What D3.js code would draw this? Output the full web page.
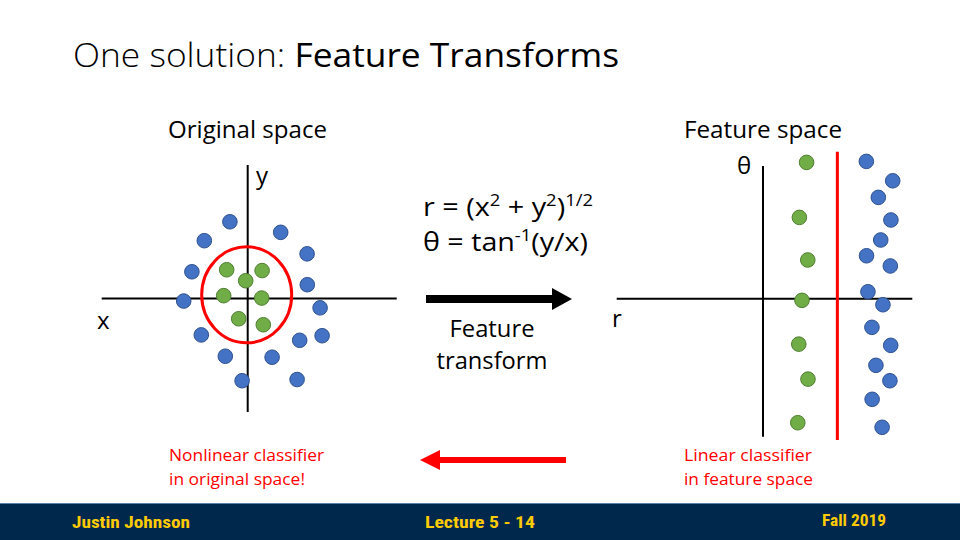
<!DOCTYPE html>
<html>
<head>
<meta charset="utf-8">
<script src="https://cdnjs.cloudflare.com/ajax/libs/d3/7.8.5/d3.min.js"></script>
<style>
  body { margin: 0; background: #fff; }
  svg { display: block; }
  text { font-family: 'Open Sans', 'Noto Sans', sans-serif; }
</style>
</head>
<body>
<script>
// points in the original (x, y) space
var origBlue = [
  [-0.89, 3.85], [-2.17, 2.9], [1.65, 3.32], [2.97, 2.24], [-2.79, 1.34],
  [2.98, 0.69], [-3.2, -0.13], [3.62, -0.47], [-2.32, -1.83], [3.72, -1.87],
  [2.6, -2.1], [-1.12, -2.9], [1.22, -2.95], [-0.28, -4.13], [2.47, -4.07]
];
var origGreen = [
  [-1.05, 1.44], [0.72, 1.4], [-0.1, 0.89], [-1.2, 0.14],
  [0.7, 0.02], [-0.45, -1.02], [0.78, -1.32]
];
// same points in the (r, theta) feature space
var featBlue = [
  [5.17, 6.87], [6.49, 5.9], [5.77, 5.07], [6.4, 3.94], [5.89, 2.94],
  [5.18, 2.15], [6.37, 1.64], [5.25, 0.35], [6.0, -0.3], [5.45, -1.43],
  [6.39, -2.33], [5.65, -3.33], [6.35, -4.1], [5.46, -5.03], [5.96, -6.43]
];
var featGreen = [
  [2.18, 6.82], [1.82, 4.07], [2.24, 1.94], [1.95, -0.08],
  [1.79, -2.27], [2.25, -4.02], [1.74, -6.2]
];
// decision boundaries
var circleBoundary = { cx: -0.05, cy: 0.18, rx: 2.25, ry: 2.4 };
var lineBoundary = { r: 3.72, top: 7.35, bottom: -7.07 };

var origXDomain = [-7.3, 7.45], origYDomain = [6.7, -5.7];
var featXDomain = [-7.32, 7.47], featYDomain = [6.64, -6.9];

var W = 960, H = 540;
var svg = d3.select('body').append('svg').attr('width', W).attr('height', H);

var BLUE = '#4472c4', BLUE_S = '#2f528f';
var GREEN = '#70ad47', GREEN_S = '#507e32';
var RED = '#ff0000';
var ptR = 7.3;

// helper for plain text lines, textLength keeps widths like the slide
var label = function(x, y, size, str, len, opts) {
  opts = opts || {};
  var t = svg.append('text')
    .attr('x', x).attr('y', y)
    .attr('font-size', size)
    .attr('fill', opts.fill || '#000')
    .attr('text-anchor', opts.anchor || 'start')
    .text(str);
  if (len) t.attr('textLength', len).attr('lengthAdjust', 'spacingAndGlyphs');
  return t;
};

// title
var title = svg.append('text')
  .attr('x', 73).attr('y', 67)
  .attr('font-size', 33)
  .attr('fill', '#000')
  .attr('textLength', 546).attr('lengthAdjust', 'spacingAndGlyphs');
title.append('tspan').attr('font-weight', 300).text('One solution: ');
title.append('tspan').attr('font-weight', 400).text('Feature Transforms');

/*
  Original space panel
*/
var ox = d3.scaleLinear().domain(origXDomain).range([101.7, 396.7]);
var oy = d3.scaleLinear().domain(origYDomain).range([165, 412]);
// pixels per unit are the same on both axes
var ouPx = ox(1) - ox(0);

var left = svg.append('g');
left.append('line')
  .attr('x1', ox(origXDomain[0])).attr('x2', ox(origXDomain[1]))
  .attr('y1', oy(0)).attr('y2', oy(0))
  .style('stroke', '#000').style('stroke-width', 2);
left.append('line')
  .attr('x1', ox(0)).attr('x2', ox(0))
  .attr('y1', oy(origYDomain[0])).attr('y2', oy(origYDomain[1]))
  .style('stroke', '#000').style('stroke-width', 2);

left.selectAll('circle.blue').data(origBlue).enter().append('circle')
  .attr('class', 'blue')
  .attr('cx', function(d) { return ox(d[0]); })
  .attr('cy', function(d) { return oy(d[1]); })
  .attr('r', ptR)
  .style('fill', BLUE).style('stroke', BLUE_S).style('stroke-width', 1);

left.selectAll('circle.green').data(origGreen).enter().append('circle')
  .attr('class', 'green')
  .attr('cx', function(d) { return ox(d[0]); })
  .attr('cy', function(d) { return oy(d[1]); })
  .attr('r', ptR)
  .style('fill', GREEN).style('stroke', GREEN_S).style('stroke-width', 1);

left.append('ellipse')
  .attr('cx', ox(circleBoundary.cx)).attr('cy', oy(circleBoundary.cy))
  .attr('rx', circleBoundary.rx * ouPx).attr('ry', circleBoundary.ry * ouPx)
  .style('fill', 'none').style('stroke', RED).style('stroke-width', 3);

label(256, 184, 24, 'y');
label(97, 329, 24, 'x');
label(168, 138, 23, 'Original space', 159);

/*
  Feature space panel
*/
var fx = d3.scaleLinear().domain(featXDomain).range([616.7, 912.3]);
var fy = d3.scaleLinear().domain(featYDomain).range([166, 436.7]);

var right = svg.append('g');
right.append('line')
  .attr('x1', fx(featXDomain[0])).attr('x2', fx(featXDomain[1]))
  .attr('y1', fy(0)).attr('y2', fy(0))
  .style('stroke', '#000').style('stroke-width', 2);
right.append('line')
  .attr('x1', fx(0)).attr('x2', fx(0))
  .attr('y1', fy(featYDomain[0])).attr('y2', fy(featYDomain[1]))
  .style('stroke', '#000').style('stroke-width', 2);

right.selectAll('circle.green').data(featGreen).enter().append('circle')
  .attr('class', 'green')
  .attr('cx', function(d) { return fx(d[0]); })
  .attr('cy', function(d) { return fy(d[1]); })
  .attr('r', ptR)
  .style('fill', GREEN).style('stroke', GREEN_S).style('stroke-width', 1);

right.append('line')
  .attr('x1', fx(lineBoundary.r)).attr('x2', fx(lineBoundary.r))
  .attr('y1', fy(lineBoundary.top)).attr('y2', fy(lineBoundary.bottom))
  .style('stroke', RED).style('stroke-width', 3);

right.selectAll('circle.blue').data(featBlue).enter().append('circle')
  .attr('class', 'blue')
  .attr('cx', function(d) { return fx(d[0]); })
  .attr('cy', function(d) { return fy(d[1]); })
  .attr('r', ptR)
  .style('fill', BLUE).style('stroke', BLUE_S).style('stroke-width', 1);

label(737, 174, 24, 'θ');
label(612, 327, 24, 'r');
label(684, 138, 23, 'Feature space', 158);

/*
  Formulas and arrows
*/
var f1 = svg.append('text').attr('x', 423).attr('y', 216).attr('font-size', 25)
  .attr('textLength', 170).attr('lengthAdjust', 'spacingAndGlyphs');
f1.append('tspan').text('r = (x');
f1.append('tspan').attr('dy', -10).attr('font-size', 16).text('2');
f1.append('tspan').attr('dy', 10).text(' + y');
f1.append('tspan').attr('dy', -10).attr('font-size', 16).text('2');
f1.append('tspan').attr('dy', 10).text(')');
f1.append('tspan').attr('dy', -10).attr('font-size', 16).text('1/2');

var f2 = svg.append('text').attr('x', 423).attr('y', 251).attr('font-size', 25)
  .attr('textLength', 165).attr('lengthAdjust', 'spacingAndGlyphs');
f2.append('tspan').text('θ = tan');
f2.append('tspan').attr('dy', -10).attr('font-size', 16).text('-1');
f2.append('tspan').attr('dy', 10).text('(y/x)');

// black arrow
svg.append('path')
  .attr('d', 'M426,295 L552,295 L552,288 L572,299 L552,310 L552,303 L426,303 Z')
  .style('fill', '#000');
label(492, 337, 23, 'Feature', 85, { anchor: 'middle' });
label(492, 369, 23, 'transform', 111, { anchor: 'middle' });

// red arrow
svg.append('path')
  .attr('d', 'M566,457 L440,457 L440,450 L420,460 L440,470 L440,463 L566,463 Z')
  .style('fill', RED);

label(169, 461, 17, 'Nonlinear classifier', 155, { fill: RED });
label(169, 485, 17, 'in original space!', 136, { fill: RED });
label(684, 461, 17, 'Linear classifier', 128, { fill: RED });
label(684, 485, 17, 'in feature space', 129, { fill: RED });

/*
  Footer
*/
svg.append('rect').attr('x', 0).attr('y', 503).attr('width', W).attr('height', 37)
  .style('fill', '#00274c');
svg.append('line').attr('x1', 0).attr('x2', W).attr('y1', 503.5).attr('y2', 503.5)
  .style('stroke', '#5b7fa6').style('stroke-width', 1);
var foot = [
  { t: 'Justin Johnson', x: 72, y: 528, w: 118 },
  { t: 'Lecture 5 - 14', x: 425, y: 528, w: 110 },
  { t: 'Fall 2019', x: 822, y: 526, w: 64 }
];
svg.selectAll('text.foot').data(foot).enter().append('text')
  .attr('class', 'foot')
  .attr('x', function(d) { return d.x; })
  .attr('y', function(d) { return d.y; })
  .attr('textLength', function(d) { return d.w; })
  .attr('lengthAdjust', 'spacingAndGlyphs')
  .attr('font-size', 17).attr('font-weight', 'bold')
  .style('font-family', "'Liberation Sans Narrow', 'Roboto Condensed', 'Roboto', sans-serif")
  .style('fill', '#ffcb05')
  .text(function(d) { return d.t; });
</script>
</body>
</html>
